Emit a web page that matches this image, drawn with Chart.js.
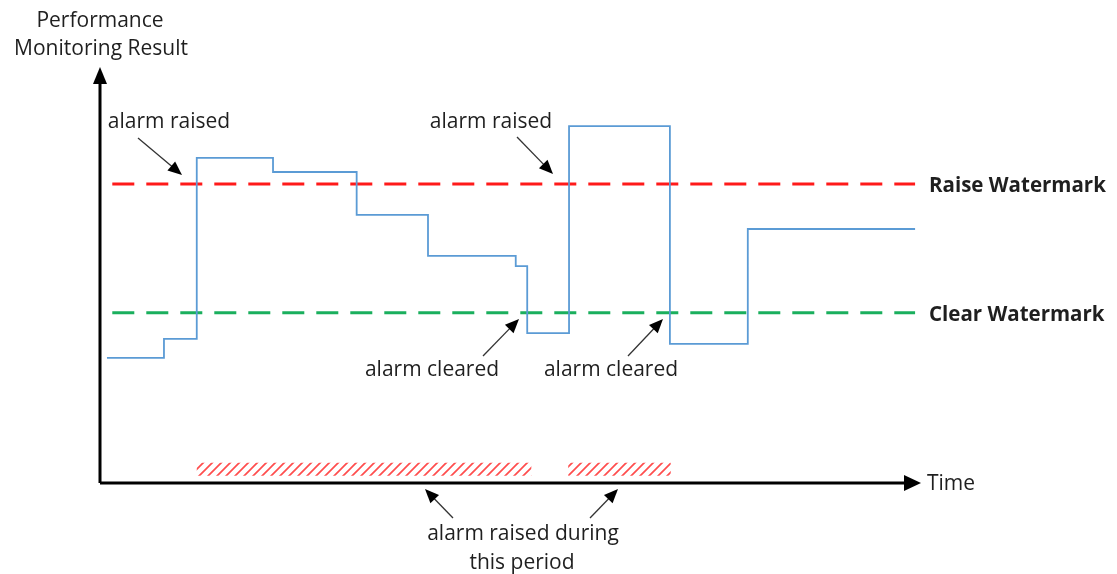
<!DOCTYPE html>
<html>
<head>
<meta charset="utf-8">
<script src="https://cdn.jsdelivr.net/npm/chart.js@4"></script>
<style>
  body { margin: 0; background: #fff; }
  canvas { display: block; }
</style>
</head>
<body>
<canvas id="alarmChart" width="1117" height="574"></canvas>
<script>
// time of each step change and the value that starts there
const stepTimes  = [0.85, 7.8, 11.8, 21.1, 31.3, 40.0, 50.7, 52.1, 57.2, 69.5, 79.0, 99.4];
const stepValues = [30.3, 34.9, 78.7, 75.3, 64.9, 55.0, 52.5, 36.3, 86.4, 33.7, 61.5, 61.5];

const raiseWatermark = 72.4;
const clearWatermark = 41.2;
const watermarkSpan = [1.5, 99.4];

// periods while the alarm is raised: [start, end]
const alarmPeriods = [[11.8, 52.6], [57.1, 69.6]];
const periodLevel = 3.3;

document.addEventListener("DOMContentLoaded", function () {
    const area = document.getElementById("alarmChart");
    const ctx = area.getContext("2d");

    // red diagonal hatch
    const tile = document.createElement("canvas");
    tile.width = 9; tile.height = 9;
    const t = tile.getContext("2d");
    t.strokeStyle = "#ff4d4d";
    t.lineWidth = 1.7;
    t.beginPath();
    t.moveTo(-1, 10); t.lineTo(10, -1);
    t.moveTo(-1, 1); t.lineTo(1, -1);
    t.moveTo(8, 10); t.lineTo(10, 8);
    t.stroke();
    const hatch = ctx.createPattern(tile, "repeat");

    const stepPoints = stepTimes.map((x, i) => ({ x: x, y: stepValues[i] }));
    const periodPoints = [];
    alarmPeriods.forEach((p, i) => {
        if (i > 0) periodPoints.push({ x: p[0] - 0.1, y: null });
        periodPoints.push({ x: p[0], y: periodLevel }, { x: p[1], y: periodLevel });
    });

    const FONT = "'Open Sans', sans-serif";
    const TEXT = "#1f1f1f";

    const notes = [
        { text: "Performance", x: 100, y: 21, align: "center" },
        { text: "Monitoring Result", x: 101, y: 49, align: "center" },
        { text: "alarm raised", x: 169, y: 122, align: "center" },
        { text: "alarm raised", x: 491, y: 122, align: "center" },
        { text: "alarm cleared", x: 432, y: 370, align: "center" },
        { text: "alarm cleared", x: 611, y: 370, align: "center" },
        { text: "alarm raised during", x: 523, y: 534, align: "center" },
        { text: "this period", x: 522, y: 563, align: "center" },
        { text: "Time", x: 927, y: 484, align: "left" },
        { text: "Raise Watermark", x: 929, y: 186, align: "left", bold: true },
        { text: "Clear Watermark", x: 929, y: 315, align: "left", bold: true }
    ];
    const pointers = [
        [138, 138, 182, 175], [517, 137, 553, 174],
        [483, 356, 519, 319], [628, 356, 663, 319],
        [453, 518, 425, 489], [590, 518, 618, 489]
    ];

    function head(c, x0, y0, x1, y1, len, half) {
        const a = Math.atan2(y1 - y0, x1 - x0);
        c.beginPath();
        c.moveTo(x1, y1);
        c.lineTo(x1 - len * Math.cos(a) + half * Math.sin(a), y1 - len * Math.sin(a) - half * Math.cos(a));
        c.lineTo(x1 - len * Math.cos(a) - half * Math.sin(a), y1 - len * Math.sin(a) + half * Math.cos(a));
        c.closePath();
        c.fill();
    }

    const diagram = {
        id: "diagram",
        afterDraw(chart) {
            const c = chart.ctx;
            const xs = chart.scales.x, ys = chart.scales.y;
            const x0 = xs.getPixelForValue(0), y0 = ys.getPixelForValue(0);
            c.save();
            // axes
            c.strokeStyle = "#000"; c.fillStyle = "#000"; c.lineWidth = 3;
            c.beginPath();
            c.moveTo(x0, y0); c.lineTo(x0, 82);
            c.moveTo(x0, y0); c.lineTo(906, y0);
            c.stroke();
            head(c, x0, y0, x0, 67, 17, 7);
            head(c, x0, y0, 921, y0, 17, 8);
            // pointer arrows
            c.strokeStyle = "#333"; c.lineWidth = 1.3;
            pointers.forEach(p => {
                const a = Math.atan2(p[3] - p[1], p[2] - p[0]);
                c.beginPath();
                c.moveTo(p[0], p[1]);
                c.lineTo(p[2] - 10 * Math.cos(a), p[3] - 10 * Math.sin(a));
                c.stroke();
                c.fillStyle = "#000";
                head(c, p[0], p[1], p[2], p[3], 14, 6);
            });
            // text
            c.fillStyle = TEXT;
            c.textBaseline = "middle";
            notes.forEach(n => {
                c.font = (n.bold ? "bold 20.5px " : "21px ") + FONT;
                c.textAlign = n.align;
                c.fillText(n.text, n.x, n.y);
            });
            c.restore();
        }
    };

    new Chart(ctx, {
        type: "line",
        data: {
            datasets: [
                {
                    label: "Result",
                    data: stepPoints,
                    stepped: true,
                    borderColor: "#5b9bd5",
                    borderWidth: 1.8,
                    pointRadius: 0,
                    fill: false
                },
                {
                    label: "Raise Watermark",
                    data: watermarkSpan.map(x => ({ x: x, y: raiseWatermark })),
                    borderColor: "#ff1a1a",
                    borderWidth: 3,
                    borderDash: [22, 12],
                    pointRadius: 0
                },
                {
                    label: "Clear Watermark",
                    data: watermarkSpan.map(x => ({ x: x, y: clearWatermark })),
                    borderColor: "#1aaf5d",
                    borderWidth: 3,
                    borderDash: [22, 12],
                    pointRadius: 0
                },
                {
                    label: "Alarm period",
                    data: periodPoints,
                    borderColor: hatch,
                    borderWidth: 13,
                    borderCapStyle: "butt",
                    spanGaps: false,
                    pointRadius: 0
                }
            ]
        },
        options: {
            responsive: false,
            animation: false,
            layout: { padding: { left: 100, right: 197, top: 70, bottom: 91 } },
            plugins: { legend: { display: false }, tooltip: { enabled: false } },
            scales: {
                x: { type: "linear", min: 0, max: 100, display: false },
                y: { min: 0, max: 100, display: false }
            }
        },
        plugins: [diagram]
    });
});
</script>
</body>
</html>
